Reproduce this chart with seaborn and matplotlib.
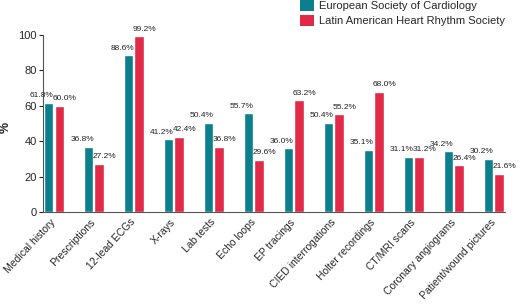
import matplotlib
matplotlib.use("Agg")
import matplotlib.pyplot as plt
import seaborn as sns
import pandas as pd
from matplotlib.patches import Patch

categories = ["Medical history", "Prescriptions", "12-lead ECGs", "X-rays", "Lab tests",
              "Echo loops", "EP tracings", "CIED interrogations", "Holter recordings",
              "CT/MRI scans", "Coronary angiograms", "Patient/wound pictures"]
esc = [61.8, 36.8, 88.6, 41.2, 50.4, 55.7, 36.0, 50.4, 35.1, 31.1, 34.2, 30.2]
lahrs = [60.0, 27.2, 99.2, 42.4, 36.8, 29.6, 63.2, 55.2, 68.0, 31.2, 26.4, 21.6]
series = ["European Society of Cardiology", "Latin American Heart Rhythm Society"]
yticks = [0, 20, 40, 60, 80, 100]

colors = ["#0b7f8b", "#e02a48"]

df = pd.DataFrame({
    "category": categories * 2,
    "value": esc + lahrs,
    "society": [series[0]] * len(categories) + [series[1]] * len(categories),
})

sns.set_style("white")
plt.rcParams["font.family"] = ["Liberation Sans", "DejaVu Sans"]

fig = plt.figure(figsize=(5.2, 3.06), dpi=100)
ax = fig.add_axes([0.083, 0.307, 0.888, 0.579])
sns.barplot(data=df, x="category", y="value", hue="society", order=categories,
            hue_order=series, palette=colors, width=0.53, gap=0.14,
            saturation=1, legend=False, ax=ax)

n = len(categories)
ax.set_xlim(-0.265, n - 1 + 0.28)
ax.set_ylim(0, 100)
ax.set_yticks(yticks)
ax.set_yticklabels([str(t) for t in yticks], fontsize=8)
ax.set_xticks(range(n))
ax.set_xticklabels(categories, rotation=47, ha="right", va="center",
                   rotation_mode="anchor", fontsize=7.5)
ax.tick_params(axis="x", length=0, pad=6)
ax.tick_params(axis="y", length=3, width=0.8, direction="out", left=True, pad=1.5)
ax.set_xlabel("")
ax.set_ylabel("%", fontsize=9, fontweight="bold")
ax.yaxis.set_label_coords(-0.068, 0.48)
for s in ["top", "right"]:
    ax.spines[s].set_visible(False)
for s in ["left", "bottom"]:
    ax.spines[s].set_color("#555555")
    ax.spines[s].set_linewidth(0.8)

for cont_i, cont in enumerate(ax.containers):
    for bar, v in zip(cont, (esc, lahrs)[cont_i]):
        if cont_i == 0:
            x = bar.get_x() + bar.get_width() + 0.02
            ha = "right"
        else:
            x = bar.get_x() - 0.04
            ha = "left"
        ax.annotate(f"{v:.1f}%", (x, bar.get_height()), xytext=(0, 2.5),
                    textcoords="offset points", ha=ha, va="bottom",
                    fontsize=6.0, color="#222222", annotation_clip=False)

handles = [Patch(facecolor=c, edgecolor="none") for c in colors]
fig.legend(handles, series, loc="upper left", bbox_to_anchor=(0.569, 1.015),
           frameon=False, fontsize=8, handlelength=1.2, handleheight=1.2,
           handletextpad=0.45, labelspacing=0.3, borderaxespad=0)

fig.savefig("out.png", dpi=100)
